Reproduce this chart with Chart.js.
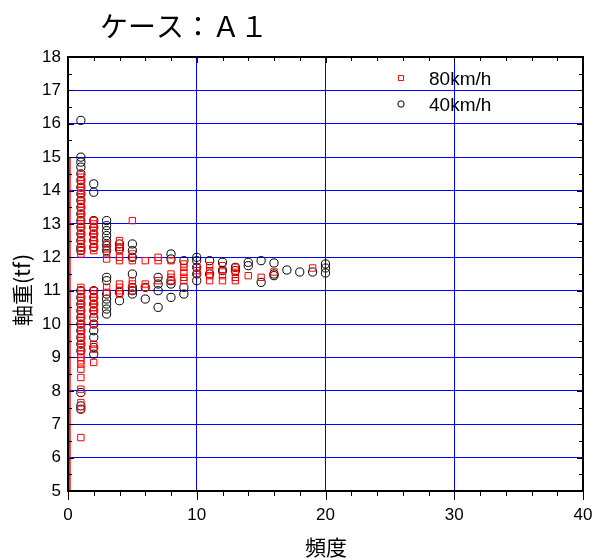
<!DOCTYPE html>
<html><head><meta charset="utf-8">
<script src="https://cdn.jsdelivr.net/npm/chart.js@4.4.0/dist/chart.umd.min.js"></script>
<style>html,body{margin:0;padding:0;background:#fff;}</style>
</head><body>
<canvas id="c" width="595" height="560"></canvas>
<script>
const titleText = 'ケース：Ａ１';
const xTitle = '頻度';
const yTitle = '軸重(tf)';
const seriesNames = ['80km/h', '40km/h'];
const xTickValues = [0, 10, 20, 30, 40];
const yTickValues = [5,6,7,8,9,10,11,12,13,14,15,16,17,18];

// 80km/h : frequency -> axle loads (tf)
const freq80 = [1, 2, 3, 4, 5, 6, 7, 8, 9, 10, 11, 12, 13, 14, 15, 16, 19];
const load80 = [
  [14.5,14.4,14.3,14.2,14.1,14.0,13.9,13.8,13.7,13.6,13.5,13.4,13.3,13.2,13.1,13.0,12.9,12.8,12.7,12.6,12.5,12.4,12.3,12.2,12.1,
   11.1,11.0,10.9,10.8,10.7,10.6,10.5,10.4,10.3,10.2,10.1,10.0,9.9,9.8,9.7,9.6,9.5,9.4,9.3,9.2,9.1,9.0,8.9,8.8,8.65,8.4,8.05,7.65,7.45,6.6],
  [13.1,13.0,12.9,12.8,12.7,12.6,12.5,12.4,12.3,12.2,
   11.0,10.9,10.8,10.7,10.6,10.5,10.4,10.3,10.0,9.4,9.25,8.85],
  [12.4,12.25,12.1,11.95,11.1,10.95],
  [12.5,12.3,12.2,12.0,11.9,11.2,11.1,11.0,10.9],
  [13.1,12.1,12.0,11.9,11.3,11.2,11.1,11.0],
  [11.9,11.2,11.1],
  [12.0,11.9,11.3],
  [11.9,11.5,11.4,11.3],
  [11.8,11.7,11.55,11.4,11.3],
  [11.7,11.6,11.5],
  [11.75,11.6,11.45,11.3],
  [11.75,11.6,11.45,11.3],
  [11.7,11.55,11.4,11.3],
  [11.45],
  [11.4],
  [11.56],
  [11.68]
];

// 40km/h : frequency -> axle loads (tf)
const freq40 = [1, 2, 3, 4, 5, 6, 7, 8, 9, 10, 11, 12, 13, 14, 15, 16, 17, 18, 19, 20];
const load40 = [
  [16.1,15.0,14.85,14.7,14.5,14.3,14.1,13.9,13.7,13.5,13.3,13.1,12.9,12.7,12.5,12.3,12.2,
   11.0,10.8,10.6,10.4,10.2,10.0,9.8,9.6,9.4,9.2,7.95,7.55,7.45],
  [14.2,13.95,13.1,12.9,12.7,12.5,12.3,11.0,10.8,10.6,10.4,10.2,10.0,9.8,9.6,9.3,9.1],
  [13.1,12.95,12.8,12.65,12.5,12.35,12.2,11.4,11.3,10.9,10.75,10.6,10.45,10.3],
  [12.4,12.25,10.95,10.7],
  [12.4,12.2,12.0,11.5,11.1,11.0,10.9],
  [11.1,10.75],
  [11.4,11.2,11.0,10.5],
  [12.1,11.95,11.3,11.2,10.8],
  [11.9,11.1,10.9],
  [12.0,11.9,11.7,11.5,11.3],
  [11.9,11.5],
  [11.85,11.6],
  [11.7,11.6],
  [11.85,11.75],
  [11.9,11.25],
  [11.83,11.5,11.45],
  [11.62],
  [11.56],
  [11.56],
  [11.8,11.68,11.53]
];

// red reference line near the y axis
const refLineX = [0.15, 0.15];
const refLineY = [5, 15];

const toPoints = (freqs, loads) => freqs.flatMap((f, i) => loads[i].map(w => ({x: f, y: w})));

const FONT = "'Liberation Sans', 'Noto Sans CJK JP', sans-serif";
const JFONT = "'Noto Sans CJK JP', sans-serif";

const framePlugin = {
  id: 'framePlugin',
  afterDraw(chart) {
    const ctx = chart.ctx;
    const xs = chart.scales.x, ys = chart.scales.y;
    const L = xs.left, R = xs.right, T = ys.top, B = ys.bottom;
    ctx.save();
    ctx.strokeStyle = '#000';
    ctx.lineWidth = 1;
    ctx.beginPath();
    for (let v = 5; v <= 18.001; v += 0.5) {
      const y = Math.round(ys.getPixelForValue(v)) + 0.5;
      const len = (Math.abs(v - Math.round(v)) < 1e-6) ? 6 : 4;
      ctx.moveTo(L, y); ctx.lineTo(L + len, y);
      ctx.moveTo(R, y); ctx.lineTo(R - len, y);
    }
    for (let v = 0; v <= 40.001; v += 2) {
      const x = Math.round(xs.getPixelForValue(v)) + 0.5;
      const major = v % 10 === 0;
      ctx.moveTo(x, B); ctx.lineTo(x, B + (major ? 9 : 5));
      ctx.moveTo(x, T); ctx.lineTo(x, T + (major ? 6 : 4));
    }
    ctx.stroke();
    ctx.lineWidth = 2;
    ctx.strokeRect(L, T, R - L, B - T);
    ctx.fillStyle = '#000';
    ctx.textAlign = 'center';
    ctx.textBaseline = 'middle';
    ctx.font = '28px ' + JFONT;
    ctx.fillText(titleText, 184, 26);
    ctx.font = '21px ' + JFONT;
    ctx.fillText(xTitle, 326, 547);
    ctx.save();
    ctx.translate(22, 290);
    ctx.rotate(-Math.PI / 2);
    ctx.fillText(yTitle, 0, 0);
    ctx.restore();
    const items = [
      {ds: chart.data.datasets[0], y: 78, r: 3.6},
      {ds: chart.data.datasets[1], y: 104, r: 3.2}
    ];
    ctx.textAlign = 'left';
    ctx.font = '19px ' + FONT;
    items.forEach(it => {
      ctx.strokeStyle = it.ds.borderColor;
      ctx.fillStyle = 'rgba(0,0,0,0)';
      ctx.lineWidth = 1;
      Chart.helpers.drawPoint(ctx, {pointStyle: it.ds.pointStyle, radius: it.r, borderWidth: 1}, 401, it.y);
      ctx.fillStyle = '#000';
      ctx.fillText(it.ds.label, 429, it.y + 2);
    });
    ctx.restore();
  }
};

new Chart(document.getElementById('c'), {
  type: 'scatter',
  data: {
    datasets: [
      {
        label: seriesNames[0],
        data: toPoints(freq80, load80),
        pointStyle: 'rect',
        pointRadius: 4.5,
        borderColor: '#ff0000',
        backgroundColor: 'rgba(0,0,0,0)',
        borderWidth: 1,
        order: 1
      },
      {
        label: seriesNames[1],
        data: toPoints(freq40, load40),
        pointStyle: 'circle',
        pointRadius: 4.1,
        borderColor: '#000000',
        backgroundColor: 'rgba(0,0,0,0)',
        borderWidth: 1,
        order: 2
      },
      {
        label: 'ref',
        type: 'line',
        data: refLineX.map((x, i) => ({x, y: refLineY[i]})),
        borderColor: '#ff0000',
        borderWidth: 1.5,
        pointRadius: 0,
        showLine: true,
        order: 3
      }
    ]
  },
  options: {
    responsive: false,
    animation: false,
    devicePixelRatio: 1,
    layout: {padding: {top: 57, right: 12, left: 0, bottom: 0}},
    plugins: {legend: {display: false}, title: {display: false}, tooltip: {enabled: false}},
    scales: {
      x: {
        type: 'linear', min: 0, max: 40,
        afterFit(s) { s.height = 69; s.paddingLeft = 0; s.paddingRight = 0; },
        afterBuildTicks(s) { s.ticks = xTickValues.map(v => ({value: v})); },
        ticks: {color: '#000', font: {family: FONT, size: 17}, padding: 14, maxRotation: 0},
        grid: {
          drawTicks: false,
          color: c => (c.tick && c.tick.value > 0 && c.tick.value < 40) ? '#0000ff' : 'rgba(0,0,0,0)',
          lineWidth: 1
        },
        border: {display: false}
      },
      y: {
        type: 'linear', min: 5, max: 18,
        afterFit(s) { s.width = 68; s.paddingTop = 0; s.paddingBottom = 0; },
        afterBuildTicks(s) { s.ticks = yTickValues.map(v => ({value: v})); },
        ticks: {color: '#000', font: {family: FONT, size: 17}, padding: 7},
        grid: {
          drawTicks: false,
          color: c => (c.tick && c.tick.value > 5 && c.tick.value < 18) ? '#0000ff' : 'rgba(0,0,0,0)',
          lineWidth: 1
        },
        border: {display: false}
      }
    }
  },
  plugins: [framePlugin]
});
</script>
</body></html>
